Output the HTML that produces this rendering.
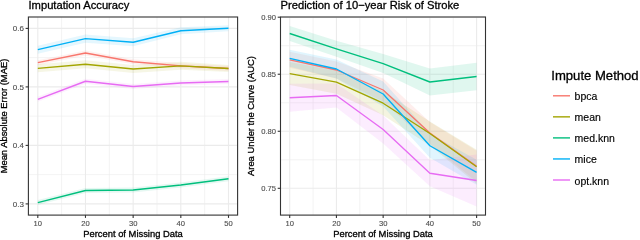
<!DOCTYPE html>
<html><head><meta charset="utf-8"><style>
html,body{margin:0;padding:0;background:#fff;}
body{width:640px;height:240px;overflow:hidden;font-family:"Liberation Sans",sans-serif;}
svg{display:block;will-change:transform;}
</style></head><body>
<svg width="640" height="240" viewBox="0 0 640 240">
<rect width="640" height="240" fill="#fff"/>
<line x1="28.4" x2="237.6" y1="174.65" y2="174.65" stroke="#EBEBEB" stroke-width="0.6"/>
<line x1="28.4" x2="237.6" y1="116.14999999999998" y2="116.14999999999998" stroke="#EBEBEB" stroke-width="0.6"/>
<line x1="28.4" x2="237.6" y1="57.64999999999996" y2="57.64999999999996" stroke="#EBEBEB" stroke-width="0.6"/>
<line y1="17" y2="215.1" x1="61.637499999999996" x2="61.637499999999996" stroke="#EBEBEB" stroke-width="0.6"/>
<line y1="17" y2="215.1" x1="109.3125" x2="109.3125" stroke="#EBEBEB" stroke-width="0.6"/>
<line y1="17" y2="215.1" x1="156.9875" x2="156.9875" stroke="#EBEBEB" stroke-width="0.6"/>
<line y1="17" y2="215.1" x1="204.6625" x2="204.6625" stroke="#EBEBEB" stroke-width="0.6"/>
<line x1="28.4" x2="237.6" y1="203.9" y2="203.9" stroke="#EBEBEB" stroke-width="1.1"/>
<line x1="28.4" x2="237.6" y1="145.39999999999998" y2="145.39999999999998" stroke="#EBEBEB" stroke-width="1.1"/>
<line x1="28.4" x2="237.6" y1="86.89999999999998" y2="86.89999999999998" stroke="#EBEBEB" stroke-width="1.1"/>
<line x1="28.4" x2="237.6" y1="28.4" y2="28.4" stroke="#EBEBEB" stroke-width="1.1"/>
<line y1="17" y2="215.1" x1="37.8" x2="37.8" stroke="#EBEBEB" stroke-width="1.1"/>
<line y1="17" y2="215.1" x1="85.475" x2="85.475" stroke="#EBEBEB" stroke-width="1.1"/>
<line y1="17" y2="215.1" x1="133.15" x2="133.15" stroke="#EBEBEB" stroke-width="1.1"/>
<line y1="17" y2="215.1" x1="180.825" x2="180.825" stroke="#EBEBEB" stroke-width="1.1"/>
<line y1="17" y2="215.1" x1="228.5" x2="228.5" stroke="#EBEBEB" stroke-width="1.1"/>
<path d="M37.80,60.20 L85.47,50.50 L133.15,59.25 L180.82,63.30 L228.50,66.00 L228.50,71.00 L180.82,68.30 L133.15,64.25 L85.47,55.50 L37.80,65.20 Z" fill="#F8766D" fill-opacity="0.1"/>
<path d="M37.80,64.30 L85.47,60.25 L133.15,65.00 L180.82,61.80 L228.50,65.00 L228.50,72.00 L180.82,69.80 L133.15,73.00 L85.47,68.25 L37.80,72.30 Z" fill="#A3A500" fill-opacity="0.1"/>
<path d="M37.80,200.10 L85.47,188.00 L133.15,187.50 L180.82,182.50 L228.50,176.25 L228.50,181.25 L180.82,187.50 L133.15,192.50 L85.47,193.00 L37.80,205.10 Z" fill="#00BF7D" fill-opacity="0.1"/>
<path d="M37.80,45.70 L85.47,34.40 L133.15,38.25 L180.82,27.25 L228.50,25.25 L228.50,31.25 L180.82,34.25 L133.15,46.25 L85.47,42.80 L37.80,53.70 Z" fill="#00B0F6" fill-opacity="0.1"/>
<path d="M37.80,96.80 L85.47,78.75 L133.15,84.00 L180.82,80.50 L228.50,79.00 L228.50,84.00 L180.82,85.50 L133.15,89.00 L85.47,83.75 L37.80,101.80 Z" fill="#E76BF3" fill-opacity="0.1"/>
<path d="M37.80,62.70 L85.47,53.00 L133.15,61.75 L180.82,65.80 L228.50,68.50" fill="none" stroke="#F8766D" stroke-width="1.35" stroke-linejoin="round"/>
<path d="M37.80,68.30 L85.47,64.25 L133.15,69.00 L180.82,65.80 L228.50,68.50" fill="none" stroke="#A3A500" stroke-width="1.35" stroke-linejoin="round"/>
<path d="M37.80,202.60 L85.47,190.50 L133.15,190.00 L180.82,185.00 L228.50,178.75" fill="none" stroke="#00BF7D" stroke-width="1.35" stroke-linejoin="round"/>
<path d="M37.80,49.70 L85.47,38.60 L133.15,42.25 L180.82,30.75 L228.50,28.25" fill="none" stroke="#00B0F6" stroke-width="1.35" stroke-linejoin="round"/>
<path d="M37.80,99.30 L85.47,81.25 L133.15,86.50 L180.82,83.00 L228.50,81.50" fill="none" stroke="#E76BF3" stroke-width="1.35" stroke-linejoin="round"/>
<line x1="280.5" x2="485.5" y1="159.7875" y2="159.7875" stroke="#EBEBEB" stroke-width="0.6"/>
<line x1="280.5" x2="485.5" y1="102.75250000000008" y2="102.75250000000008" stroke="#EBEBEB" stroke-width="0.6"/>
<line x1="280.5" x2="485.5" y1="45.71750000000003" y2="45.71750000000003" stroke="#EBEBEB" stroke-width="0.6"/>
<line y1="17" y2="215.1" x1="313.0625" x2="313.0625" stroke="#EBEBEB" stroke-width="0.6"/>
<line y1="17" y2="215.1" x1="359.7875" x2="359.7875" stroke="#EBEBEB" stroke-width="0.6"/>
<line y1="17" y2="215.1" x1="406.5125" x2="406.5125" stroke="#EBEBEB" stroke-width="0.6"/>
<line y1="17" y2="215.1" x1="453.2375" x2="453.2375" stroke="#EBEBEB" stroke-width="0.6"/>
<line x1="280.5" x2="485.5" y1="188.305" y2="188.305" stroke="#EBEBEB" stroke-width="1.1"/>
<line x1="280.5" x2="485.5" y1="131.26999999999998" y2="131.26999999999998" stroke="#EBEBEB" stroke-width="1.1"/>
<line x1="280.5" x2="485.5" y1="74.23500000000006" y2="74.23500000000006" stroke="#EBEBEB" stroke-width="1.1"/>
<line x1="280.5" x2="485.5" y1="17.2" y2="17.2" stroke="#EBEBEB" stroke-width="1.1"/>
<line y1="17" y2="215.1" x1="289.7" x2="289.7" stroke="#EBEBEB" stroke-width="1.1"/>
<line y1="17" y2="215.1" x1="336.425" x2="336.425" stroke="#EBEBEB" stroke-width="1.1"/>
<line y1="17" y2="215.1" x1="383.15" x2="383.15" stroke="#EBEBEB" stroke-width="1.1"/>
<line y1="17" y2="215.1" x1="429.875" x2="429.875" stroke="#EBEBEB" stroke-width="1.1"/>
<line y1="17" y2="215.1" x1="476.6" x2="476.6" stroke="#EBEBEB" stroke-width="1.1"/>
<path d="M289.70,51.80 L336.43,61.50 L383.15,78.50 L429.88,122.00 L476.60,150.80 L476.60,181.80 L429.88,144.00 L383.15,101.50 L336.43,78.50 L289.70,67.80 Z" fill="#F8766D" fill-opacity="0.12"/>
<path d="M289.70,62.10 L336.43,70.70 L383.15,91.20 L429.88,121.50 L476.60,149.80 L476.60,183.80 L429.88,145.50 L383.15,115.20 L336.43,93.70 L289.70,85.10 Z" fill="#A3A500" fill-opacity="0.12"/>
<path d="M289.70,26.00 L336.43,40.80 L383.15,54.10 L429.88,68.50 L476.60,62.75 L476.60,90.25 L429.88,95.50 L383.15,73.10 L336.43,56.80 L289.70,41.00 Z" fill="#00BF7D" fill-opacity="0.12"/>
<path d="M289.70,49.80 L336.43,59.50 L383.15,81.50 L429.88,133.75 L476.60,159.80 L476.60,184.80 L429.88,157.75 L383.15,106.50 L336.43,78.50 L289.70,66.80 Z" fill="#00B0F6" fill-opacity="0.12"/>
<path d="M289.70,83.75 L336.43,83.50 L383.15,115.50 L429.88,160.25 L476.60,154.50 L476.60,206.50 L429.88,186.25 L383.15,143.50 L336.43,107.50 L289.70,111.75 Z" fill="#E76BF3" fill-opacity="0.12"/>
<path d="M289.70,59.80 L336.43,70.00 L383.15,90.00 L429.88,133.00 L476.60,166.30" fill="none" stroke="#F8766D" stroke-width="1.35" stroke-linejoin="round"/>
<path d="M289.70,73.60 L336.43,82.20 L383.15,103.20 L429.88,133.50 L476.60,166.80" fill="none" stroke="#A3A500" stroke-width="1.35" stroke-linejoin="round"/>
<path d="M289.70,33.50 L336.43,48.80 L383.15,63.60 L429.88,82.00 L476.60,76.50" fill="none" stroke="#00BF7D" stroke-width="1.35" stroke-linejoin="round"/>
<path d="M289.70,58.30 L336.43,69.00 L383.15,94.00 L429.88,145.75 L476.60,172.30" fill="none" stroke="#00B0F6" stroke-width="1.35" stroke-linejoin="round"/>
<path d="M289.70,97.75 L336.43,95.50 L383.15,129.50 L429.88,173.25 L476.60,180.50" fill="none" stroke="#E76BF3" stroke-width="1.35" stroke-linejoin="round"/>
<rect x="28.4" y="17" width="209.2" height="198.1" fill="none" stroke="#333333" stroke-width="1.1"/>
<rect x="280.5" y="17" width="205.0" height="198.1" fill="none" stroke="#333333" stroke-width="1.1"/>
<line x1="25.599999999999998" x2="28.4" y1="203.9" y2="203.9" stroke="#333333" stroke-width="1.1"/>
<text x="23.9" y="206.78" text-anchor="end" font-size="8.0" fill="#4D4D4D" stroke="#4D4D4D" stroke-width="0.12" font-family="Liberation Sans, sans-serif">0.3</text>
<line x1="25.599999999999998" x2="28.4" y1="145.39999999999998" y2="145.39999999999998" stroke="#333333" stroke-width="1.1"/>
<text x="23.9" y="148.28" text-anchor="end" font-size="8.0" fill="#4D4D4D" stroke="#4D4D4D" stroke-width="0.12" font-family="Liberation Sans, sans-serif">0.4</text>
<line x1="25.599999999999998" x2="28.4" y1="86.89999999999998" y2="86.89999999999998" stroke="#333333" stroke-width="1.1"/>
<text x="23.9" y="89.78" text-anchor="end" font-size="8.0" fill="#4D4D4D" stroke="#4D4D4D" stroke-width="0.12" font-family="Liberation Sans, sans-serif">0.5</text>
<line x1="25.599999999999998" x2="28.4" y1="28.4" y2="28.4" stroke="#333333" stroke-width="1.1"/>
<text x="23.9" y="31.28" text-anchor="end" font-size="8.0" fill="#4D4D4D" stroke="#4D4D4D" stroke-width="0.12" font-family="Liberation Sans, sans-serif">0.6</text>
<line x1="37.8" x2="37.8" y1="215.1" y2="217.9" stroke="#333333" stroke-width="1.1"/>
<text x="37.8" y="225.5" text-anchor="middle" font-size="7.6" fill="#4D4D4D" stroke="#4D4D4D" stroke-width="0.12" font-family="Liberation Sans, sans-serif">10</text>
<line x1="85.475" x2="85.475" y1="215.1" y2="217.9" stroke="#333333" stroke-width="1.1"/>
<text x="85.475" y="225.5" text-anchor="middle" font-size="7.6" fill="#4D4D4D" stroke="#4D4D4D" stroke-width="0.12" font-family="Liberation Sans, sans-serif">20</text>
<line x1="133.15" x2="133.15" y1="215.1" y2="217.9" stroke="#333333" stroke-width="1.1"/>
<text x="133.15" y="225.5" text-anchor="middle" font-size="7.6" fill="#4D4D4D" stroke="#4D4D4D" stroke-width="0.12" font-family="Liberation Sans, sans-serif">30</text>
<line x1="180.825" x2="180.825" y1="215.1" y2="217.9" stroke="#333333" stroke-width="1.1"/>
<text x="180.825" y="225.5" text-anchor="middle" font-size="7.6" fill="#4D4D4D" stroke="#4D4D4D" stroke-width="0.12" font-family="Liberation Sans, sans-serif">40</text>
<line x1="228.5" x2="228.5" y1="215.1" y2="217.9" stroke="#333333" stroke-width="1.1"/>
<text x="228.5" y="225.5" text-anchor="middle" font-size="7.6" fill="#4D4D4D" stroke="#4D4D4D" stroke-width="0.12" font-family="Liberation Sans, sans-serif">50</text>
<line x1="277.7" x2="280.5" y1="188.305" y2="188.305" stroke="#333333" stroke-width="1.1"/>
<text x="276" y="191.04" text-anchor="end" font-size="7.6" fill="#4D4D4D" stroke="#4D4D4D" stroke-width="0.12" font-family="Liberation Sans, sans-serif">0.75</text>
<line x1="277.7" x2="280.5" y1="131.26999999999998" y2="131.26999999999998" stroke="#333333" stroke-width="1.1"/>
<text x="276" y="134.01" text-anchor="end" font-size="7.6" fill="#4D4D4D" stroke="#4D4D4D" stroke-width="0.12" font-family="Liberation Sans, sans-serif">0.80</text>
<line x1="277.7" x2="280.5" y1="74.23500000000006" y2="74.23500000000006" stroke="#333333" stroke-width="1.1"/>
<text x="276" y="76.97" text-anchor="end" font-size="7.6" fill="#4D4D4D" stroke="#4D4D4D" stroke-width="0.12" font-family="Liberation Sans, sans-serif">0.85</text>
<line x1="277.7" x2="280.5" y1="17.2" y2="17.2" stroke="#333333" stroke-width="1.1"/>
<text x="276" y="19.94" text-anchor="end" font-size="7.6" fill="#4D4D4D" stroke="#4D4D4D" stroke-width="0.12" font-family="Liberation Sans, sans-serif">0.90</text>
<line x1="289.7" x2="289.7" y1="215.1" y2="217.9" stroke="#333333" stroke-width="1.1"/>
<text x="289.7" y="225.5" text-anchor="middle" font-size="7.6" fill="#4D4D4D" stroke="#4D4D4D" stroke-width="0.12" font-family="Liberation Sans, sans-serif">10</text>
<line x1="336.425" x2="336.425" y1="215.1" y2="217.9" stroke="#333333" stroke-width="1.1"/>
<text x="336.425" y="225.5" text-anchor="middle" font-size="7.6" fill="#4D4D4D" stroke="#4D4D4D" stroke-width="0.12" font-family="Liberation Sans, sans-serif">20</text>
<line x1="383.15" x2="383.15" y1="215.1" y2="217.9" stroke="#333333" stroke-width="1.1"/>
<text x="383.15" y="225.5" text-anchor="middle" font-size="7.6" fill="#4D4D4D" stroke="#4D4D4D" stroke-width="0.12" font-family="Liberation Sans, sans-serif">30</text>
<line x1="429.875" x2="429.875" y1="215.1" y2="217.9" stroke="#333333" stroke-width="1.1"/>
<text x="429.875" y="225.5" text-anchor="middle" font-size="7.6" fill="#4D4D4D" stroke="#4D4D4D" stroke-width="0.12" font-family="Liberation Sans, sans-serif">40</text>
<line x1="476.6" x2="476.6" y1="215.1" y2="217.9" stroke="#333333" stroke-width="1.1"/>
<text x="476.6" y="225.5" text-anchor="middle" font-size="7.6" fill="#4D4D4D" stroke="#4D4D4D" stroke-width="0.12" font-family="Liberation Sans, sans-serif">50</text>
<text x="133.0" y="237" text-anchor="middle" font-size="9.4" fill="#000" stroke="#000" stroke-width="0.3" font-family="Liberation Sans, sans-serif">Percent of Missing Data</text>
<text x="383.0" y="237" text-anchor="middle" font-size="9.4" fill="#000" stroke="#000" stroke-width="0.3" font-family="Liberation Sans, sans-serif">Percent of Missing Data</text>
<text transform="translate(7.1,116.05) rotate(-90)" text-anchor="middle" font-size="9.4" fill="#000" stroke="#000" stroke-width="0.3" font-family="Liberation Sans, sans-serif">Mean Absolute Error (MAE)</text>
<text transform="translate(254.1,116.05) rotate(-90)" text-anchor="middle" font-size="9.4" fill="#000" stroke="#000" stroke-width="0.3" font-family="Liberation Sans, sans-serif">Area Under the Curve (AUC)</text>
<text x="28.5" y="9.2" font-size="11.2" fill="#000" stroke="#000" stroke-width="0.3" font-family="Liberation Sans, sans-serif">Imputation Accuracy</text>
<text x="280.5" y="9.2" font-size="11.2" fill="#000" stroke="#000" stroke-width="0.3" font-family="Liberation Sans, sans-serif">Prediction of 10−year Risk of Stroke</text>
<text x="551.3" y="80.3" font-size="13.1" fill="#000" stroke="#000" stroke-width="0.3" font-family="Liberation Sans, sans-serif">Impute Method</text>
<line x1="553" x2="570" y1="95.80" y2="95.80" stroke="#F8766D" stroke-width="1.4"/>
<text x="574.6" y="100.30" font-size="10.5" fill="#000" stroke="#000" stroke-width="0.15" font-family="Liberation Sans, sans-serif">bpca</text>
<line x1="553" x2="570" y1="116.85" y2="116.85" stroke="#A3A500" stroke-width="1.4"/>
<text x="574.6" y="121.35" font-size="10.5" fill="#000" stroke="#000" stroke-width="0.15" font-family="Liberation Sans, sans-serif">mean</text>
<line x1="553" x2="570" y1="137.90" y2="137.90" stroke="#00BF7D" stroke-width="1.4"/>
<text x="574.6" y="142.40" font-size="10.5" fill="#000" stroke="#000" stroke-width="0.15" font-family="Liberation Sans, sans-serif">med.knn</text>
<line x1="553" x2="570" y1="158.95" y2="158.95" stroke="#00B0F6" stroke-width="1.4"/>
<text x="574.6" y="163.45" font-size="10.5" fill="#000" stroke="#000" stroke-width="0.15" font-family="Liberation Sans, sans-serif">mice</text>
<line x1="553" x2="570" y1="180.00" y2="180.00" stroke="#E76BF3" stroke-width="1.4"/>
<text x="574.6" y="184.50" font-size="10.5" fill="#000" stroke="#000" stroke-width="0.15" font-family="Liberation Sans, sans-serif">opt.knn</text>
</svg>
</body></html>
